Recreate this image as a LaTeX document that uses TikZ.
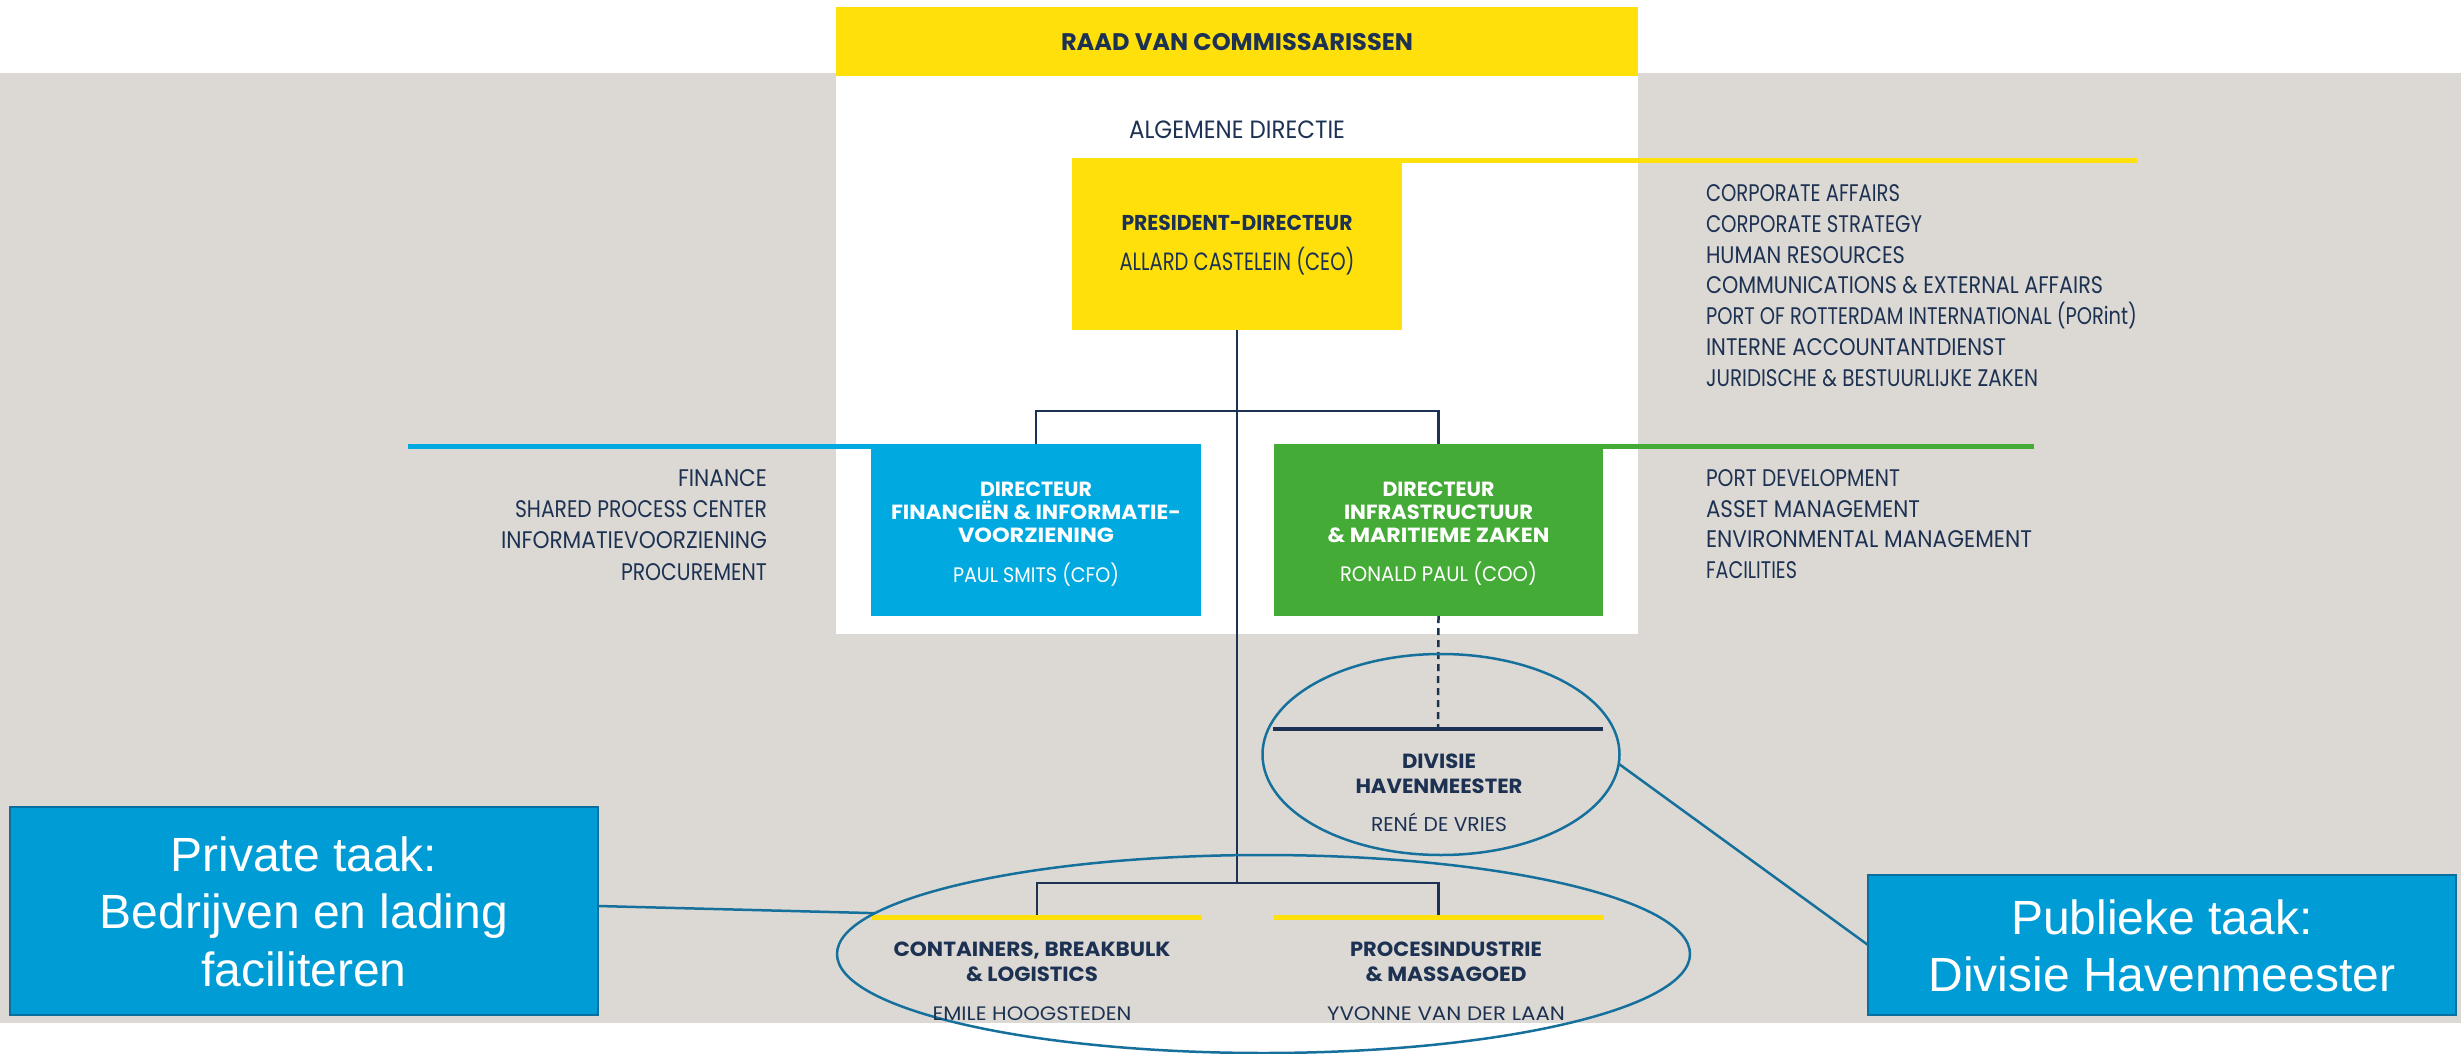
\documentclass[tikz,border=0pt]{standalone}
\usepackage{fontspec}
\usepackage{graphicx}
\setmainfont{Liberation Sans}
\newfontfamily\fut{Poppins}
\usetikzlibrary{shapes.geometric,calc}
\definecolor{bggray}{HTML}{DCD9D4}
\definecolor{yel}{HTML}{FFE00B}
\definecolor{cyanbox}{HTML}{00AAE1}
\definecolor{grn}{HTML}{45AB37}
\definecolor{navy}{HTML}{1D3253}
\definecolor{ellc}{HTML}{16709C}
\definecolor{callfill}{HTML}{009CD5}
\definecolor{callborder}{HTML}{0A6E9E}
\newsavebox\fitbox
\newlength\fitlen
\newcommand\fitw[2]{\sbox\fitbox{#2}\fitlen=\wd\fitbox\pgfmathsetmacro\fitr{#1/\fitlen}\scalebox{\fitr}[1]{\usebox\fitbox}}
\begin{document}
\begin{tikzpicture}[x=1pt,y=-1pt,
  box/.style={inner sep=0pt, outer sep=0pt, anchor=north west},
  reg/.style={font=\fut\fontsize{24}{24}\selectfont, text=navy, inner sep=0pt, outer sep=0pt, anchor=base},
  nm/.style={reg, font=\fut\fontsize{21}{21}\selectfont},
  ttl/.style={font=\fut\bfseries\fontsize{20.5}{20.5}\selectfont, text=navy, inner sep=0pt, outer sep=0pt, anchor=base},
  conn/.style={draw=navy, line width=2.5pt},
  bar/.style={inner sep=0pt, outer sep=0pt, minimum width=330pt},
  ell/.style={ellipse, draw=ellc, line width=2.5pt, inner sep=0pt, outer sep=0pt},
  callout/.style={fill=callfill, draw=callborder, line width=2.5pt, inner sep=0pt, outer sep=0pt},
  calltext/.style={font=\fontsize{48}{48}\selectfont, text=white, inner sep=0pt, anchor=base},
  cline/.style={draw=ellc, line width=2.5pt}]
\useasboundingbox (0,0) rectangle (2461,1054);
% backgrounds
\fill[bggray] (0,73) rectangle (2461,1023);
\fill[white] (836,76) rectangle (1638,634);
\node[box, fill=yel, minimum width=802pt, minimum height=69pt] (raad) at (836,7) {};
\node[ttl, font=\fut\bfseries\fontsize{24}{24}\selectfont] (raadt) at (1237,50.5) {\fitw{352}{RAAD VAN COMMISSARISSEN}};
\node[reg, font=\fut\fontsize{25}{25}\selectfont] (alg) at (1237,139) {\fitw{216}{ALGEMENE DIRECTIE}};
% president
\node[box, fill=yel, minimum width=330pt, minimum height=172pt] (pres) at (1072,158) {};
\coordinate (yend) at (2137,161);
\draw[yel, line width=5pt] (pres.north east |- yend) -- (yend);
\node[ttl, font=\fut\bfseries\fontsize{21.5}{21.5}\selectfont] (prest) at (1237,230) {\fitw{231}{PRESIDENT-DIRECTEUR}};
\node[reg, font=\fut\fontsize{25}{25}\selectfont] (presn) at (1237,270) {\fitw{235}{ALLARD CASTELEIN (CEO)}};
\foreach \t/\w [count=\i] in {CORPORATE AFFAIRS/194, CORPORATE STRATEGY/216, HUMAN RESOURCES/199, COMMUNICATIONS \& EXTERNAL AFFAIRS/397, PORT OF ROTTERDAM INTERNATIONAL (PORint)/431, INTERNE ACCOUNTANTDIENST/300, JURIDISCHE \& BESTUURLIJKE ZAKEN/332}
  \node[reg, anchor=base west] (rl\i) at (1706,{201.5+30.8*(\i-1)}) {\fitw{\w}{\t}};
% directors
\node[box, fill=cyanbox, minimum width=330pt, minimum height=172pt] (fin) at (871,444) {};
\node[box, fill=grn, minimum width=329pt, minimum height=172pt] (inf) at (1274,444) {};
\coordinate (bend) at (408,446.5);
\coordinate (gend) at (2034,446.5);
\draw[cyanbox, line width=5pt] (bend) -- (fin.north west |- bend);
\draw[grn, line width=5pt] (inf.north east |- gend) -- (gend);
\foreach \t/\w [count=\i] in {FINANCE/89, SHARED PROCESS CENTER/252, INFORMATIEVOORZIENING/266, PROCUREMENT/146}
  \node[reg, anchor=base east] (fl\i) at (767,{486.7+31.1*(\i-1)}) {\fitw{\w}{\t}};
\foreach \t/\w [count=\i] in {PORT DEVELOPMENT/194, ASSET MANAGEMENT/214, ENVIRONMENTAL MANAGEMENT/326, FACILITIES/91}
  \node[reg, anchor=base west] (gl\i) at (1706,{486.5+30.5*(\i-1)}) {\fitw{\w}{\t}};
\foreach \t/\y/\w [count=\i] in {DIRECTEUR/496/112, {FINANCIËN \& INFORMATIE-}/519.3/290, VOORZIENING/542.7/156}
  \node[ttl, text=white] (ft\i) at (1036,\y) {\fitw{\w}{\t}};
\node[nm, text=white] (fn) at (1036,582.7) {\fitw{166}{PAUL SMITS (CFO)}};
\foreach \t/\y/\w [count=\i] in {DIRECTEUR/496/112, INFRASTRUCTUUR/519.3/189, {\& MARITIEME ZAKEN}/542.7/222}
  \node[ttl, text=white] (gt\i) at (1438.5,\y) {\fitw{\w}{\t}};
\node[nm, text=white] (gn) at (1438.5,581.7) {\fitw{197}{RONALD PAUL (COO)}};
% connectors
\coordinate (j1) at (1237,411);
\coordinate (j2) at (1237,883);
\node[bar, fill=navy, minimum height=4pt] (hmbar) at (1438,729) {};
\node[bar, fill=yel, minimum height=5pt] (cbl) at (1037,917) {};
\node[bar, fill=yel, minimum height=5pt] (pim) at (1438.5,917) {};
\draw[conn] (pres.south) -- (j2);
\draw[conn] (fin.north) -- (fin.north |- j1) -- (inf.north |- j1) -- (inf.north);
\draw[conn] (cbl.north) -- (cbl.north |- j2) -- (pim.north |- j2) -- (pim.north);
\draw[conn, dash pattern=on 7pt off 5pt] (inf.south) -- (hmbar.north);
% havenmeester
\node[ell, minimum width=357pt, minimum height=201pt] (hmell) at (1441,754.5) {};
\foreach \t/\y/\w [count=\i] in {DIVISIE/768.3/74, HAVENMEESTER/793.3/167}
  \node[ttl] (ht\i) at (1439,\y) {\fitw{\w}{\t}};
\node[nm, font=\fut\fontsize{20}{20}\selectfont] (hn) at (1439,831.7) {\fitw{136}{RENÉ DE VRIES}};
% lower units
\node[ell, minimum width=853pt, minimum height=198pt] (bigell) at (1263.5,954) {};
\foreach \t/\y/\w [count=\i] in {{CONTAINERS, BREAKBULK}/956.7/277, {\& LOGISTICS}/981.7/132}
  \node[ttl] (ct\i) at (1032,\y) {\fitw{\w}{\t}};
\node[nm, font=\fut\fontsize{19.5}{19.5}\selectfont] (cn) at (1032,1020) {\fitw{199}{EMILE HOOGSTEDEN}};
\foreach \t/\y/\w [count=\i] in {PROCESINDUSTRIE/956.7/192, {\& MASSAGOED}/981.7/161}
  \node[ttl] (pt\i) at (1446,\y) {\fitw{\w}{\t}};
\node[nm, font=\fut\fontsize{19.5}{19.5}\selectfont] (pn) at (1446,1020) {\fitw{238}{YVONNE VAN DER LAAN}};
% callouts
\node[callout, minimum width=588pt, minimum height=208pt] (priv) at (304,911) {};
\foreach \t/\y [count=\i] in {Private taak:/871.7, Bedrijven en lading/928.8, faciliteren/986.2}
  \node[calltext] (pvt\i) at (304,\y) {\t};
\node[callout, minimum width=588pt, minimum height=140pt] (pub) at (2162,945) {};
\foreach \t/\y [count=\i] in {Publieke taak:/934, Divisie Havenmeester/991.7}
  \node[calltext] (pbt\i) at (2162,\y) {\t};
\draw[cline] ($(priv.east)+(0,-5)$) -- (bigell.174.3);
\draw[cline] (hmell.-3) -- (pub.west);
\end{tikzpicture}
\end{document}
